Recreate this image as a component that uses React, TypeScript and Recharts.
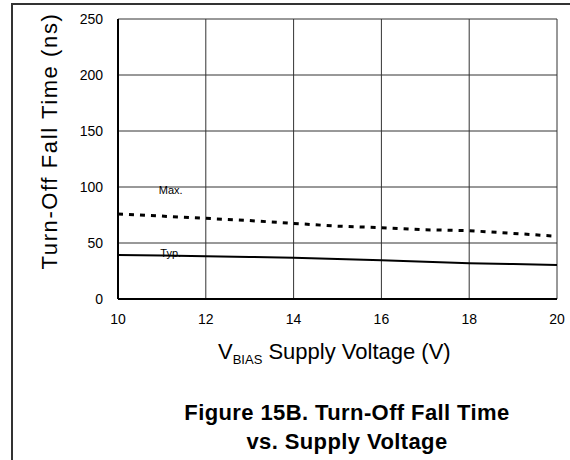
import React from 'react';
import {
  LineChart, Line, XAxis, YAxis, CartesianGrid, ReferenceDot,
} from 'recharts';

// Supply voltage (V)
const voltage = [10, 11, 12, 13, 14, 15, 16, 17, 18, 19, 20];
// Max turn-off fall time (ns)
const maxFall = [76, 74, 72, 70, 67.5, 65, 63.7, 61.8, 61, 58.6, 56];
// Typ turn-off fall time (ns)
const typFall = [39.3, 38.8, 38.2, 37.5, 36.9, 35.7, 34.5, 33.2, 32, 31.2, 30.4];

const xTicks = [10, 12, 14, 16, 18, 20];
const yTicks = [0, 50, 100, 150, 200, 250];

const data = voltage.map((v, i) => ({ v, max: maxFall[i], typ: typFall[i] }));

const FONT = '"Liberation Sans", Arial, sans-serif';

export default function App() {
  return (
    <div style={{ position: 'absolute', left: 0, top: 0, width: 570, height: 460, background: '#fff', fontFamily: FONT, overflow: 'hidden' }}>
      {/* outer frame */}
      <div style={{
        position: 'absolute', left: 11, top: 3, width: 570, height: 470,
        borderLeft: '2px solid #333', borderTop: '2px solid #333',
      }} />

      <div style={{ position: 'absolute', left: 0, top: 0 }}>
        <LineChart width={570} height={460} data={data}
          margin={{ top: 19, right: 13, bottom: 131, left: 58 }}>
          <CartesianGrid stroke="#333" strokeWidth={1} horizontalValues={yTicks} verticalValues={xTicks} />
          <XAxis dataKey="v" type="number" domain={[10, 20]} ticks={xTicks}
            tickLine={false} tickSize={8} tickMargin={7}
            axisLine={{ stroke: '#000', strokeWidth: 2 }}
            tick={{ fill: '#000', fontSize: 14, fontFamily: FONT }} />
          <YAxis type="number" domain={[0, 250]} ticks={yTicks} width={60}
            tickLine={false} tickSize={8} tickMargin={7}
            axisLine={{ stroke: '#000', strokeWidth: 2 }}
            tick={{ fill: '#000', fontSize: 14, fontFamily: FONT }} />
          <Line dataKey="max" stroke="#000" strokeWidth={3} strokeDasharray="5 6"
            dot={false} isAnimationActive={false} />
          <Line dataKey="typ" stroke="#000" strokeWidth={2}
            dot={false} isAnimationActive={false} />
          <ReferenceDot x={11.2} y={97} r={0} stroke="none"
            label={{ value: 'Max.', fill: '#000', fontSize: 11, fontFamily: FONT, position: 'center' }} />
          <ReferenceDot x={11.2} y={41} r={0} stroke="none"
            label={{ value: 'Typ.', fill: '#000', fontSize: 11, fontFamily: FONT, position: 'center' }} />
        </LineChart>
      </div>

      {/* y axis title */}
      <div style={{
        position: 'absolute', left: 50, top: 141, fontSize: 22, letterSpacing: 1.6, whiteSpace: 'nowrap',
        transform: 'translate(-50%, -50%) rotate(-90deg)',
      }}>Turn-Off Fall Time (ns)</div>

      {/* x axis title */}
      <div style={{
        position: 'absolute', left: 218, top: 339, fontSize: 22, whiteSpace: 'nowrap', lineHeight: '26px',
      }}>V<sub style={{ fontSize: 13 }}>BIAS</sub> Supply Voltage (V)</div>

      {/* figure caption */}
      <div style={{
        position: 'absolute', left: 97, width: 500, top: 398, textAlign: 'center',
        fontSize: 22, fontWeight: 'bold', lineHeight: '29px', letterSpacing: 0.4,
      }}>
        Figure 15B. Turn-Off Fall Time<br />vs. Supply Voltage
      </div>
    </div>
  );
}
